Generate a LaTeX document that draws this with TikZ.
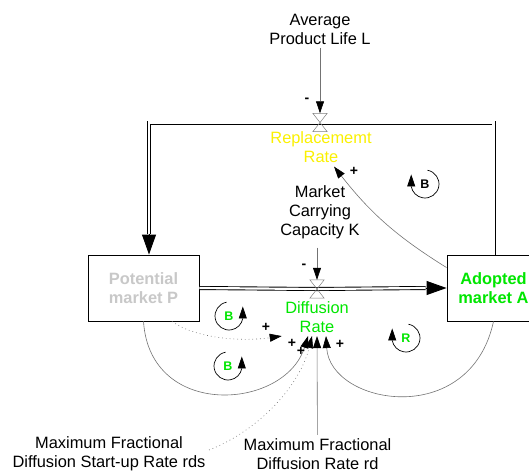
\documentclass[tikz,border=0pt]{standalone}
\usepackage{fontspec}
\setmainfont{Liberation Sans}
\usetikzlibrary{arrows.meta}
\definecolor{vgreen}{RGB}{0,230,0}
\definecolor{vyellow}{RGB}{250,240,0}
\definecolor{lgray}{RGB}{200,200,200}
\definecolor{lgrey}{RGB}{115,115,115}
\tikzset{>={Triangle[length=12pt,width=8pt,color=black]}}
\tikzset{
  txt/.style={align=center,font=\fontsize{16.4}{19}\selectfont},
  stock/.style={draw,line width=0.9pt,minimum width=111,minimum height=66,align=center,font=\fontsize{16.4}{19}\selectfont\bfseries},
  valve/.style={minimum width=14,minimum height=18,inner sep=0pt},
  valveline/.style={draw=gray,line width=0.5pt},
  flow/.style={draw=black,line width=0.9pt,double,double distance=2.2pt},
  flowhead/.style={-{Triangle[length=20pt,width=14pt]},line width=0.9pt},
  link/.style={->,draw=lgrey,line width=0.6pt},
  sign/.style={font=\fontsize{14}{14}\selectfont\bfseries,inner sep=0pt},
  loopline/.style={->,line width=0.7pt},
  looplabel/.style={font=\fontsize{12.5}{12.5}\selectfont\bfseries,inner sep=0pt},
  loopcw/.pic={\draw[loopline] (80:14) arc[start angle=80,end angle=-170,radius=14] -- ++(0,12); \node[looplabel] {#1};},
  loopccw/.pic={\draw[loopline] (100:14) arc[start angle=100,end angle=350,radius=14] -- ++(0,12); \node[looplabel] {#1};}
}

\begin{document}
\begin{tikzpicture}[x=1pt,y=1pt]
\useasboundingbox (0,0) rectangle (529,-472);
\clip (0,0) rectangle (529,-472);

%%% Stocks
\node[stock,text=lgray] (P) at (143.5,-288) {Potential\\market P};
\node[stock,text=vgreen,minimum width=93] (A) at (493.5,-288) {Adopted\\market A};

%%% Valves
\node[valve] (rv) at (320,-122.5) {};
\node[valve] (dv) at (317,-289) {};

%%% Flows
\draw[flow] (P.east) -- (dv.center) -- ([xshift=-21]A.west);
\draw[flowhead] ([xshift=-21]A.west) -- (A.west);
\draw[flow] (A.north) |- (rv.center) -| ([xshift=5.5,yshift=21]P.north);
\draw[flowhead] ([xshift=5.5,yshift=21]P.north) -- ([xshift=5.5]P.north);

\draw[valveline] (rv.north west) -- (rv.north east) -- (rv.south west) -- (rv.south east) -- cycle;
\draw[valveline] (dv.north west) -- (dv.north east) -- (dv.south west) -- (dv.south east) -- cycle;

%%% Variables
\node[txt] (avg) at (320,-29) {Average\\Product Life L};
\node[txt,text=vyellow] (rr) at (321,-147.5) {Replacememt\\Rate};
\node[txt] (mck) at (320,-212.5) {Market\\Carrying\\Capacity K};
\node[txt,text=vgreen] (dr) at (317,-317) {Diffusion\\Rate};
\node[txt] (rds) at (109,-454) {Maximum Fractional\\Diffusion Start-up Rate rds};
\node[txt] (rd) at (317.5,-454) {Maximum Fractional\\Diffusion Rate rd};

%%% Links
\draw[link] (avg) -- (rv.north);
\draw[link,shorten <=5pt] (mck.south -| dv.north) -- (dv.north);
\draw[link] ([yshift=-13]A.north west) to[bend left=10] ([xshift=13]rr.south);
\draw[link,dash pattern=on 0.8pt off 3pt] ([xshift=28.5]P.south) .. controls (195,-338) and (240,-342) .. (dr.south west);
\draw[link] (P.south) .. controls (150,-420) and (285,-410) .. ([xshift=-9]dr.south);
\draw[link,dash pattern=on 0.8pt off 3pt] ([yshift=4]rds.east) .. controls (260,-430) and (300,-385) .. ([xshift=-5]dr.south);
\draw[link] (rd) -- (dr.south);
\draw[link] (A.south) .. controls (470,-430) and (330,-405) .. ([xshift=9]dr.south);

%%% Polarities
\node[sign] (s1) at (307,-100) {-};
\node[sign] (s2) at (354,-171) {+};
\node[sign] (s3) at (304,-266) {-};
\node[sign] (s4) at (266,-327) {+};
\node[sign] (s5) at (292,-343) {+};
\node[sign] (s6) at (301,-351) {+};
\node[sign] (s7) at (340,-344) {+};

%%% Loops
\pic at (425,-184) {loopcw={B}};
\pic at (229,-316) {loopccw={\color{vgreen}B}};
\pic at (228,-366) {loopccw={\color{vgreen}B}};
\pic at (406,-338) {loopcw={\color{vgreen}R}};

\end{tikzpicture}
\end{document}
